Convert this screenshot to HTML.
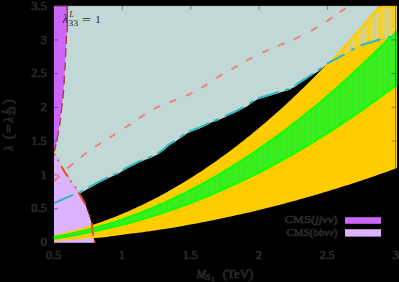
<!DOCTYPE html><html><head><meta charset="utf-8"><style>html,body{margin:0;padding:0;background:#000}svg{display:block}text{font-family:"Liberation Serif",serif}text.h{fill:#262626;stroke:#2c2c2c;stroke-width:0.7px;paint-order:stroke;stroke-linejoin:round}text.p{fill:#2c2c2c}</style></head><body>
<svg width="399" height="282" viewBox="0 0 399 282">
<rect width="399" height="282" fill="#000"/>
<defs>
<pattern id="hy" width="2.4" height="10" patternUnits="userSpaceOnUse"><rect width="2.4" height="10" fill="#ffcc00" fill-opacity="0.26"/><rect x="0.6" width="1.1" height="10" fill="#ffcc00" fill-opacity="0.95"/></pattern>
<pattern id="hg" width="2.4" height="10" patternUnits="userSpaceOnUse"><rect width="2.4" height="10" fill="#22f010" fill-opacity="0.7"/><rect x="0.6" width="1.1" height="10" fill="#22f010" fill-opacity="0.95"/></pattern>
<pattern id="gs" width="2.4" height="10" patternUnits="userSpaceOnUse"><rect x="0.2" width="1.0" height="10" fill="#b0ff30" fill-opacity="0.2"/></pattern>
<mask id="mout"><rect width="399" height="282" fill="#fff"/><path d="M53.80,5.80 L397.00,5.80 L397.00,34.00 L391.80,36.50 L370.00,43.00 L360.60,46.10 L352.80,49.90 L344.40,54.90 L326.90,64.10 L318.50,70.70 L312.50,74.50 L305.00,79.50 L298.75,83.30 L295.00,86.40 L288.75,89.60 L282.50,91.40 L276.25,93.30 L270.00,95.20 L263.75,97.10 L257.50,98.90 L251.25,102.70 L247.50,105.80 L241.25,108.90 L235.00,112.10 L228.75,114.90 L222.50,117.90 L217.50,120.10 L211.25,122.10 L206.25,124.90 L200.00,127.70 L193.75,130.20 L187.50,132.70 L181.25,137.10 L175.00,141.40 L168.75,145.10 L163.75,149.60 L157.50,154.20 L151.25,157.10 L145.00,159.60 L138.75,162.10 L132.50,165.20 L126.25,168.30 L120.00,172.20 L117.50,173.70 L108.75,177.50 L100.00,181.70 L87.50,188.70 L80.60,192.50 L78.50,192.50 L75.50,187.50 L71.00,181.50 L68.00,176.80 L65.00,172.50 L61.30,166.30 L58.30,160.30 L53.80,153.20 L53.80,153.20Z" fill="#000"/><path d="M53.80,153.20 L58.30,160.30 L61.30,166.30 L65.00,172.50 L68.00,176.80 L71.00,181.50 L75.50,187.50 L78.50,192.50 L82.00,198.50 L85.50,204.50 L87.50,210.60 L89.60,216.20 L91.60,222.90 L93.10,235.50 L94.80,242.60 L94.90,243.00 L53.80,243.00Z" fill="#000"/></mask>
<clipPath id="cin"><path d="M53.80,5.80 L397.00,5.80 L397.00,34.00 L391.80,36.50 L370.00,43.00 L360.60,46.10 L352.80,49.90 L344.40,54.90 L326.90,64.10 L318.50,70.70 L312.50,74.50 L305.00,79.50 L298.75,83.30 L295.00,86.40 L288.75,89.60 L282.50,91.40 L276.25,93.30 L270.00,95.20 L263.75,97.10 L257.50,98.90 L251.25,102.70 L247.50,105.80 L241.25,108.90 L235.00,112.10 L228.75,114.90 L222.50,117.90 L217.50,120.10 L211.25,122.10 L206.25,124.90 L200.00,127.70 L193.75,130.20 L187.50,132.70 L181.25,137.10 L175.00,141.40 L168.75,145.10 L163.75,149.60 L157.50,154.20 L151.25,157.10 L145.00,159.60 L138.75,162.10 L132.50,165.20 L126.25,168.30 L120.00,172.20 L117.50,173.70 L108.75,177.50 L100.00,181.70 L87.50,188.70 L80.60,192.50 L78.50,192.50 L75.50,187.50 L71.00,181.50 L68.00,176.80 L65.00,172.50 L61.30,166.30 L58.30,160.30 L53.80,153.20 L53.80,153.20Z"/></clipPath><clipPath id="cin2"><path d="M53.80,153.20 L58.30,160.30 L61.30,166.30 L65.00,172.50 L68.00,176.80 L71.00,181.50 L75.50,187.50 L78.50,192.50 L82.00,198.50 L85.50,204.50 L87.50,210.60 L89.60,216.20 L91.60,222.90 L93.10,235.50 L94.80,242.60 L94.90,243.00 L53.80,243.00Z"/></clipPath>
<pattern id="hy2" width="2.4" height="10" patternUnits="userSpaceOnUse"><rect width="2.4" height="10" fill="#ffcc00" fill-opacity="0.82"/><rect x="0.6" width="1.2" height="10" fill="#ffcc00" fill-opacity="1"/></pattern>
<pattern id="hg2" width="2.4" height="10" patternUnits="userSpaceOnUse"><rect width="2.4" height="10" fill="#22f010" fill-opacity="0.85"/><rect x="0.6" width="1.2" height="10" fill="#22f010" fill-opacity="1"/></pattern>
<clipPath id="cgreen"><path d="M54.00,236.59 L57.00,236.06 L60.00,235.51 L63.00,234.93 L66.00,234.33 L69.00,233.72 L72.00,233.07 L75.00,232.41 L78.00,231.72 L81.00,231.01 L84.00,230.28 L87.00,229.53 L90.00,228.75 L93.00,227.95 L96.00,227.12 L99.00,226.28 L102.00,225.41 L105.00,224.52 L108.00,223.61 L111.00,222.67 L114.00,221.71 L117.00,220.73 L120.00,219.73 L123.00,218.70 L126.00,217.65 L129.00,216.58 L132.00,215.49 L135.00,214.37 L138.00,213.23 L141.00,212.07 L144.00,210.88 L147.00,209.68 L150.00,208.45 L153.00,207.19 L156.00,205.92 L159.00,204.62 L162.00,203.30 L165.00,201.96 L168.00,200.59 L171.00,199.20 L174.00,197.79 L177.00,196.36 L180.00,194.90 L183.00,193.42 L186.00,191.92 L189.00,190.40 L192.00,188.85 L195.00,187.28 L198.00,185.69 L201.00,184.07 L204.00,182.44 L207.00,180.78 L210.00,179.09 L213.00,177.39 L216.00,175.66 L219.00,173.91 L222.00,172.14 L225.00,170.34 L228.00,168.52 L231.00,166.68 L234.00,164.82 L237.00,162.93 L240.00,161.03 L243.00,159.09 L246.00,157.14 L249.00,155.16 L252.00,153.16 L255.00,151.14 L258.00,149.10 L261.00,147.03 L264.00,144.94 L267.00,142.83 L270.00,140.69 L273.00,138.54 L276.00,136.36 L279.00,134.15 L282.00,131.93 L285.00,129.68 L288.00,127.41 L291.00,125.11 L294.00,122.80 L297.00,120.46 L300.00,118.10 L303.00,115.72 L306.00,113.31 L309.00,110.88 L312.00,108.43 L315.00,105.95 L318.00,103.46 L321.00,100.94 L324.00,98.39 L327.00,95.83 L330.00,93.24 L333.00,90.63 L336.00,88.00 L339.00,85.34 L342.00,82.67 L345.00,79.97 L348.00,77.24 L351.00,74.50 L354.00,71.73 L357.00,68.94 L360.00,66.12 L363.00,63.29 L366.00,60.43 L369.00,57.55 L372.00,54.64 L375.00,51.71 L378.00,48.77 L381.00,45.79 L384.00,42.80 L387.00,39.78 L390.00,36.74 L393.00,33.68 L396.00,30.59 L397.00,29.56 L397.00,84.92 L396.00,85.69 L393.00,87.97 L390.00,90.24 L387.00,92.49 L384.00,94.72 L381.00,96.94 L378.00,99.14 L375.00,101.32 L372.00,103.48 L369.00,105.63 L366.00,107.77 L363.00,109.88 L360.00,111.98 L357.00,114.06 L354.00,116.13 L351.00,118.18 L348.00,120.21 L345.00,122.22 L342.00,124.22 L339.00,126.20 L336.00,128.17 L333.00,130.12 L330.00,132.05 L327.00,133.96 L324.00,135.86 L321.00,137.74 L318.00,139.61 L315.00,141.46 L312.00,143.29 L309.00,145.10 L306.00,146.90 L303.00,148.68 L300.00,150.44 L297.00,152.19 L294.00,153.92 L291.00,155.63 L288.00,157.33 L285.00,159.01 L282.00,160.68 L279.00,162.32 L276.00,163.95 L273.00,165.57 L270.00,167.16 L267.00,168.74 L264.00,170.31 L261.00,171.85 L258.00,173.38 L255.00,174.90 L252.00,176.39 L249.00,177.87 L246.00,179.33 L243.00,180.78 L240.00,182.21 L237.00,183.62 L234.00,185.02 L231.00,186.40 L228.00,187.76 L225.00,189.10 L222.00,190.43 L219.00,191.74 L216.00,193.04 L213.00,194.32 L210.00,195.58 L207.00,196.83 L204.00,198.05 L201.00,199.26 L198.00,200.46 L195.00,201.64 L192.00,202.80 L189.00,203.94 L186.00,205.07 L183.00,206.18 L180.00,207.28 L177.00,208.35 L174.00,209.42 L171.00,210.46 L168.00,211.49 L165.00,212.50 L162.00,213.49 L159.00,214.47 L156.00,215.43 L153.00,216.37 L150.00,217.30 L147.00,218.21 L144.00,219.10 L141.00,219.98 L138.00,220.84 L135.00,221.68 L132.00,222.51 L129.00,223.32 L126.00,224.11 L123.00,224.89 L120.00,225.65 L117.00,226.39 L114.00,227.12 L111.00,227.83 L108.00,228.55 L105.00,229.27 L102.00,229.97 L99.00,230.65 L96.00,231.32 L93.00,231.97 L90.00,232.61 L87.00,233.23 L84.00,233.83 L81.00,234.41 L78.00,234.98 L75.00,235.53 L72.00,236.07 L69.00,236.59 L66.00,237.09 L63.00,237.57 L60.00,238.04 L57.00,238.49 L54.00,238.92Z"/></clipPath>
<clipPath id="cplot"><rect x="53.80" y="5.80" width="343.20" height="237.20"/></clipPath>
</defs>
<g clip-path="url(#cplot)">
<path d="M53.80,5.80 L397.00,5.80 L397.00,34.00 L391.80,36.50 L370.00,43.00 L360.60,46.10 L352.80,49.90 L344.40,54.90 L326.90,64.10 L318.50,70.70 L312.50,74.50 L305.00,79.50 L298.75,83.30 L295.00,86.40 L288.75,89.60 L282.50,91.40 L276.25,93.30 L270.00,95.20 L263.75,97.10 L257.50,98.90 L251.25,102.70 L247.50,105.80 L241.25,108.90 L235.00,112.10 L228.75,114.90 L222.50,117.90 L217.50,120.10 L211.25,122.10 L206.25,124.90 L200.00,127.70 L193.75,130.20 L187.50,132.70 L181.25,137.10 L175.00,141.40 L168.75,145.10 L163.75,149.60 L157.50,154.20 L151.25,157.10 L145.00,159.60 L138.75,162.10 L132.50,165.20 L126.25,168.30 L120.00,172.20 L117.50,173.70 L108.75,177.50 L100.00,181.70 L87.50,188.70 L80.60,192.50 L78.50,192.50 L75.50,187.50 L71.00,181.50 L68.00,176.80 L65.00,172.50 L61.30,166.30 L58.30,160.30 L53.80,153.20 L53.80,153.20Z" fill="#c1d8d6" stroke="#c1d8d6" stroke-width="0.8"/>
<path d="M53.80,5.80 L67.30,5.80 L67.25,30.00 L66.50,35.00 L65.30,62.00 L63.50,92.00 L60.00,122.50 L57.00,140.00 L54.00,152.50 L53.80,152.50Z" fill="#cc66ff"/>
<path d="M53.80,153.20 L58.30,160.30 L61.30,166.30 L65.00,172.50 L68.00,176.80 L71.00,181.50 L75.50,187.50 L78.50,192.50 L82.00,198.50 L85.50,204.50 L87.50,210.60 L89.60,216.20 L91.60,222.90 L93.10,235.50 L94.80,242.60 L94.90,243.00 L53.80,243.00Z" fill="#ddb3ff"/>
<g mask="url(#mout)"><path d="M54.00,235.30 L57.00,234.66 L60.00,233.99 L63.00,233.29 L66.00,232.56 L69.00,231.81 L72.00,231.03 L75.00,230.22 L78.00,229.38 L81.00,228.52 L84.00,227.63 L87.00,226.71 L90.00,225.76 L93.00,224.79 L96.00,223.79 L99.00,222.76 L102.00,221.70 L105.00,220.62 L108.00,219.51 L111.00,218.37 L114.00,217.20 L117.00,216.01 L120.00,214.78 L123.00,213.53 L126.00,212.26 L129.00,210.95 L132.00,209.62 L135.00,208.26 L138.00,206.87 L141.00,205.46 L144.00,204.02 L147.00,202.55 L150.00,201.05 L153.00,199.53 L156.00,197.97 L159.00,196.40 L162.00,194.79 L165.00,193.15 L168.00,191.49 L171.00,189.80 L174.00,188.08 L177.00,186.34 L180.00,184.57 L183.00,182.77 L186.00,180.94 L189.00,179.08 L192.00,177.20 L195.00,175.29 L198.00,173.35 L201.00,171.39 L204.00,169.39 L207.00,167.37 L210.00,165.33 L213.00,163.25 L216.00,161.15 L219.00,159.02 L222.00,156.86 L225.00,154.67 L228.00,152.46 L231.00,150.22 L234.00,147.95 L237.00,145.66 L240.00,143.33 L243.00,140.98 L246.00,138.60 L249.00,136.20 L252.00,133.77 L255.00,131.30 L258.00,128.82 L261.00,126.30 L264.00,123.76 L267.00,121.19 L270.00,118.59 L273.00,115.96 L276.00,113.31 L279.00,110.63 L282.00,107.92 L285.00,105.18 L288.00,102.42 L291.00,99.63 L294.00,96.81 L297.00,93.96 L300.00,91.09 L303.00,88.18 L306.00,85.26 L309.00,82.30 L312.00,79.31 L315.00,76.30 L318.00,73.26 L321.00,70.20 L324.00,67.10 L327.00,63.98 L330.00,60.83 L333.00,57.66 L336.00,54.45 L339.00,51.22 L342.00,47.96 L345.00,44.67 L348.00,41.36 L351.00,38.02 L354.00,34.65 L357.00,31.25 L360.00,27.82 L363.00,24.37 L366.00,20.89 L369.00,17.38 L372.00,13.85 L375.00,10.29 L378.00,6.70 L381.00,5.80 L384.00,5.80 L387.00,5.80 L390.00,5.80 L393.00,5.80 L396.00,5.80 L397.00,5.80 L397.00,168.06 L396.00,168.43 L393.00,169.52 L390.00,170.60 L387.00,171.67 L384.00,172.73 L381.00,173.79 L378.00,174.84 L375.00,175.88 L372.00,176.91 L369.00,177.94 L366.00,178.95 L363.00,179.96 L360.00,180.96 L357.00,181.96 L354.00,182.94 L351.00,183.92 L348.00,184.89 L345.00,185.85 L342.00,186.80 L339.00,187.75 L336.00,188.68 L333.00,189.61 L330.00,190.53 L327.00,191.45 L324.00,192.35 L321.00,193.25 L318.00,194.14 L315.00,195.02 L312.00,195.89 L309.00,196.76 L306.00,197.61 L303.00,198.46 L300.00,199.30 L297.00,200.14 L294.00,200.96 L291.00,201.78 L288.00,202.59 L285.00,203.39 L282.00,204.18 L279.00,204.97 L276.00,205.75 L273.00,206.52 L270.00,207.28 L267.00,208.03 L264.00,208.78 L261.00,209.51 L258.00,210.24 L255.00,210.96 L252.00,211.68 L249.00,212.38 L246.00,213.08 L243.00,213.77 L240.00,214.45 L237.00,215.12 L234.00,215.79 L231.00,216.45 L228.00,217.10 L225.00,217.74 L222.00,218.37 L219.00,219.00 L216.00,219.62 L213.00,220.23 L210.00,220.83 L207.00,221.42 L204.00,222.01 L201.00,222.58 L198.00,223.15 L195.00,223.72 L192.00,224.27 L189.00,224.82 L186.00,225.35 L183.00,225.88 L180.00,226.40 L177.00,226.92 L174.00,227.42 L171.00,227.92 L168.00,228.41 L165.00,228.89 L162.00,229.37 L159.00,229.83 L156.00,230.29 L153.00,230.74 L150.00,231.18 L147.00,231.62 L144.00,232.04 L141.00,232.46 L138.00,232.82 L135.00,233.16 L132.00,233.50 L129.00,233.83 L126.00,234.21 L123.00,234.63 L120.00,235.05 L117.00,235.47 L114.00,235.89 L111.00,236.31 L108.00,236.73 L105.00,237.15 L102.00,237.54 L99.00,237.80 L96.00,238.06 L93.00,238.31 L90.00,238.53 L87.00,238.71 L84.00,238.90 L81.00,239.20 L78.00,239.50 L75.00,239.80 L72.00,240.01 L69.00,240.23 L66.00,240.44 L63.00,240.66 L60.00,240.87 L57.00,241.09 L54.00,241.30Z" fill="#ffcc00"/><path d="M54.00,236.59 L57.00,236.06 L60.00,235.51 L63.00,234.93 L66.00,234.33 L69.00,233.72 L72.00,233.07 L75.00,232.41 L78.00,231.72 L81.00,231.01 L84.00,230.28 L87.00,229.53 L90.00,228.75 L93.00,227.95 L96.00,227.12 L99.00,226.28 L102.00,225.41 L105.00,224.52 L108.00,223.61 L111.00,222.67 L114.00,221.71 L117.00,220.73 L120.00,219.73 L123.00,218.70 L126.00,217.65 L129.00,216.58 L132.00,215.49 L135.00,214.37 L138.00,213.23 L141.00,212.07 L144.00,210.88 L147.00,209.68 L150.00,208.45 L153.00,207.19 L156.00,205.92 L159.00,204.62 L162.00,203.30 L165.00,201.96 L168.00,200.59 L171.00,199.20 L174.00,197.79 L177.00,196.36 L180.00,194.90 L183.00,193.42 L186.00,191.92 L189.00,190.40 L192.00,188.85 L195.00,187.28 L198.00,185.69 L201.00,184.07 L204.00,182.44 L207.00,180.78 L210.00,179.09 L213.00,177.39 L216.00,175.66 L219.00,173.91 L222.00,172.14 L225.00,170.34 L228.00,168.52 L231.00,166.68 L234.00,164.82 L237.00,162.93 L240.00,161.03 L243.00,159.09 L246.00,157.14 L249.00,155.16 L252.00,153.16 L255.00,151.14 L258.00,149.10 L261.00,147.03 L264.00,144.94 L267.00,142.83 L270.00,140.69 L273.00,138.54 L276.00,136.36 L279.00,134.15 L282.00,131.93 L285.00,129.68 L288.00,127.41 L291.00,125.11 L294.00,122.80 L297.00,120.46 L300.00,118.10 L303.00,115.72 L306.00,113.31 L309.00,110.88 L312.00,108.43 L315.00,105.95 L318.00,103.46 L321.00,100.94 L324.00,98.39 L327.00,95.83 L330.00,93.24 L333.00,90.63 L336.00,88.00 L339.00,85.34 L342.00,82.67 L345.00,79.97 L348.00,77.24 L351.00,74.50 L354.00,71.73 L357.00,68.94 L360.00,66.12 L363.00,63.29 L366.00,60.43 L369.00,57.55 L372.00,54.64 L375.00,51.71 L378.00,48.77 L381.00,45.79 L384.00,42.80 L387.00,39.78 L390.00,36.74 L393.00,33.68 L396.00,30.59 L397.00,29.56 L397.00,84.92 L396.00,85.69 L393.00,87.97 L390.00,90.24 L387.00,92.49 L384.00,94.72 L381.00,96.94 L378.00,99.14 L375.00,101.32 L372.00,103.48 L369.00,105.63 L366.00,107.77 L363.00,109.88 L360.00,111.98 L357.00,114.06 L354.00,116.13 L351.00,118.18 L348.00,120.21 L345.00,122.22 L342.00,124.22 L339.00,126.20 L336.00,128.17 L333.00,130.12 L330.00,132.05 L327.00,133.96 L324.00,135.86 L321.00,137.74 L318.00,139.61 L315.00,141.46 L312.00,143.29 L309.00,145.10 L306.00,146.90 L303.00,148.68 L300.00,150.44 L297.00,152.19 L294.00,153.92 L291.00,155.63 L288.00,157.33 L285.00,159.01 L282.00,160.68 L279.00,162.32 L276.00,163.95 L273.00,165.57 L270.00,167.16 L267.00,168.74 L264.00,170.31 L261.00,171.85 L258.00,173.38 L255.00,174.90 L252.00,176.39 L249.00,177.87 L246.00,179.33 L243.00,180.78 L240.00,182.21 L237.00,183.62 L234.00,185.02 L231.00,186.40 L228.00,187.76 L225.00,189.10 L222.00,190.43 L219.00,191.74 L216.00,193.04 L213.00,194.32 L210.00,195.58 L207.00,196.83 L204.00,198.05 L201.00,199.26 L198.00,200.46 L195.00,201.64 L192.00,202.80 L189.00,203.94 L186.00,205.07 L183.00,206.18 L180.00,207.28 L177.00,208.35 L174.00,209.42 L171.00,210.46 L168.00,211.49 L165.00,212.50 L162.00,213.49 L159.00,214.47 L156.00,215.43 L153.00,216.37 L150.00,217.30 L147.00,218.21 L144.00,219.10 L141.00,219.98 L138.00,220.84 L135.00,221.68 L132.00,222.51 L129.00,223.32 L126.00,224.11 L123.00,224.89 L120.00,225.65 L117.00,226.39 L114.00,227.12 L111.00,227.83 L108.00,228.55 L105.00,229.27 L102.00,229.97 L99.00,230.65 L96.00,231.32 L93.00,231.97 L90.00,232.61 L87.00,233.23 L84.00,233.83 L81.00,234.41 L78.00,234.98 L75.00,235.53 L72.00,236.07 L69.00,236.59 L66.00,237.09 L63.00,237.57 L60.00,238.04 L57.00,238.49 L54.00,238.92Z" fill="#2eec1c" stroke="#06fd06" stroke-width="1.2"/><path d="M54.00,236.59 L57.00,236.06 L60.00,235.51 L63.00,234.93 L66.00,234.33 L69.00,233.72 L72.00,233.07 L75.00,232.41 L78.00,231.72 L81.00,231.01 L84.00,230.28 L87.00,229.53 L90.00,228.75 L93.00,227.95 L96.00,227.12 L99.00,226.28 L102.00,225.41 L105.00,224.52 L108.00,223.61 L111.00,222.67 L114.00,221.71 L117.00,220.73 L120.00,219.73 L123.00,218.70 L126.00,217.65 L129.00,216.58 L132.00,215.49 L135.00,214.37 L138.00,213.23 L141.00,212.07 L144.00,210.88 L147.00,209.68 L150.00,208.45 L153.00,207.19 L156.00,205.92 L159.00,204.62 L162.00,203.30 L165.00,201.96 L168.00,200.59 L171.00,199.20 L174.00,197.79 L177.00,196.36 L180.00,194.90 L183.00,193.42 L186.00,191.92 L189.00,190.40 L192.00,188.85 L195.00,187.28 L198.00,185.69 L201.00,184.07 L204.00,182.44 L207.00,180.78 L210.00,179.09 L213.00,177.39 L216.00,175.66 L219.00,173.91 L222.00,172.14 L225.00,170.34 L228.00,168.52 L231.00,166.68 L234.00,164.82 L237.00,162.93 L240.00,161.03 L243.00,159.09 L246.00,157.14 L249.00,155.16 L252.00,153.16 L255.00,151.14 L258.00,149.10 L261.00,147.03 L264.00,144.94 L267.00,142.83 L270.00,140.69 L273.00,138.54 L276.00,136.36 L279.00,134.15 L282.00,131.93 L285.00,129.68 L288.00,127.41 L291.00,125.11 L294.00,122.80 L297.00,120.46 L300.00,118.10 L303.00,115.72 L306.00,113.31 L309.00,110.88 L312.00,108.43 L315.00,105.95 L318.00,103.46 L321.00,100.94 L324.00,98.39 L327.00,95.83 L330.00,93.24 L333.00,90.63 L336.00,88.00 L339.00,85.34 L342.00,82.67 L345.00,79.97 L348.00,77.24 L351.00,74.50 L354.00,71.73 L357.00,68.94 L360.00,66.12 L363.00,63.29 L366.00,60.43 L369.00,57.55 L372.00,54.64 L375.00,51.71 L378.00,48.77 L381.00,45.79 L384.00,42.80 L387.00,39.78 L390.00,36.74 L393.00,33.68 L396.00,30.59 L397.00,29.56 L397.00,84.92 L396.00,85.69 L393.00,87.97 L390.00,90.24 L387.00,92.49 L384.00,94.72 L381.00,96.94 L378.00,99.14 L375.00,101.32 L372.00,103.48 L369.00,105.63 L366.00,107.77 L363.00,109.88 L360.00,111.98 L357.00,114.06 L354.00,116.13 L351.00,118.18 L348.00,120.21 L345.00,122.22 L342.00,124.22 L339.00,126.20 L336.00,128.17 L333.00,130.12 L330.00,132.05 L327.00,133.96 L324.00,135.86 L321.00,137.74 L318.00,139.61 L315.00,141.46 L312.00,143.29 L309.00,145.10 L306.00,146.90 L303.00,148.68 L300.00,150.44 L297.00,152.19 L294.00,153.92 L291.00,155.63 L288.00,157.33 L285.00,159.01 L282.00,160.68 L279.00,162.32 L276.00,163.95 L273.00,165.57 L270.00,167.16 L267.00,168.74 L264.00,170.31 L261.00,171.85 L258.00,173.38 L255.00,174.90 L252.00,176.39 L249.00,177.87 L246.00,179.33 L243.00,180.78 L240.00,182.21 L237.00,183.62 L234.00,185.02 L231.00,186.40 L228.00,187.76 L225.00,189.10 L222.00,190.43 L219.00,191.74 L216.00,193.04 L213.00,194.32 L210.00,195.58 L207.00,196.83 L204.00,198.05 L201.00,199.26 L198.00,200.46 L195.00,201.64 L192.00,202.80 L189.00,203.94 L186.00,205.07 L183.00,206.18 L180.00,207.28 L177.00,208.35 L174.00,209.42 L171.00,210.46 L168.00,211.49 L165.00,212.50 L162.00,213.49 L159.00,214.47 L156.00,215.43 L153.00,216.37 L150.00,217.30 L147.00,218.21 L144.00,219.10 L141.00,219.98 L138.00,220.84 L135.00,221.68 L132.00,222.51 L129.00,223.32 L126.00,224.11 L123.00,224.89 L120.00,225.65 L117.00,226.39 L114.00,227.12 L111.00,227.83 L108.00,228.55 L105.00,229.27 L102.00,229.97 L99.00,230.65 L96.00,231.32 L93.00,231.97 L90.00,232.61 L87.00,233.23 L84.00,233.83 L81.00,234.41 L78.00,234.98 L75.00,235.53 L72.00,236.07 L69.00,236.59 L66.00,237.09 L63.00,237.57 L60.00,238.04 L57.00,238.49 L54.00,238.92Z" fill="none" stroke="#06fd06" stroke-width="3.2" clip-path="url(#cgreen)"/><path d="M54.00,236.59 L57.00,236.06 L60.00,235.51 L63.00,234.93 L66.00,234.33 L69.00,233.72 L72.00,233.07 L75.00,232.41 L78.00,231.72 L81.00,231.01 L84.00,230.28 L87.00,229.53 L90.00,228.75 L93.00,227.95 L96.00,227.12 L99.00,226.28 L102.00,225.41 L105.00,224.52 L108.00,223.61 L111.00,222.67 L114.00,221.71 L117.00,220.73 L120.00,219.73 L123.00,218.70 L126.00,217.65 L129.00,216.58 L132.00,215.49 L135.00,214.37 L138.00,213.23 L141.00,212.07 L144.00,210.88 L147.00,209.68 L150.00,208.45 L153.00,207.19 L156.00,205.92 L159.00,204.62 L162.00,203.30 L165.00,201.96 L168.00,200.59 L171.00,199.20 L174.00,197.79 L177.00,196.36 L180.00,194.90 L183.00,193.42 L186.00,191.92 L189.00,190.40 L192.00,188.85 L195.00,187.28 L198.00,185.69 L201.00,184.07 L204.00,182.44 L207.00,180.78 L210.00,179.09 L213.00,177.39 L216.00,175.66 L219.00,173.91 L222.00,172.14 L225.00,170.34 L228.00,168.52 L231.00,166.68 L234.00,164.82 L237.00,162.93 L240.00,161.03 L243.00,159.09 L246.00,157.14 L249.00,155.16 L252.00,153.16 L255.00,151.14 L258.00,149.10 L261.00,147.03 L264.00,144.94 L267.00,142.83 L270.00,140.69 L273.00,138.54 L276.00,136.36 L279.00,134.15 L282.00,131.93 L285.00,129.68 L288.00,127.41 L291.00,125.11 L294.00,122.80 L297.00,120.46 L300.00,118.10 L303.00,115.72 L306.00,113.31 L309.00,110.88 L312.00,108.43 L315.00,105.95 L318.00,103.46 L321.00,100.94 L324.00,98.39 L327.00,95.83 L330.00,93.24 L333.00,90.63 L336.00,88.00 L339.00,85.34 L342.00,82.67 L345.00,79.97 L348.00,77.24 L351.00,74.50 L354.00,71.73 L357.00,68.94 L360.00,66.12 L363.00,63.29 L366.00,60.43 L369.00,57.55 L372.00,54.64 L375.00,51.71 L378.00,48.77 L381.00,45.79 L384.00,42.80 L387.00,39.78 L390.00,36.74 L393.00,33.68 L396.00,30.59 L397.00,29.56 L397.00,84.92 L396.00,85.69 L393.00,87.97 L390.00,90.24 L387.00,92.49 L384.00,94.72 L381.00,96.94 L378.00,99.14 L375.00,101.32 L372.00,103.48 L369.00,105.63 L366.00,107.77 L363.00,109.88 L360.00,111.98 L357.00,114.06 L354.00,116.13 L351.00,118.18 L348.00,120.21 L345.00,122.22 L342.00,124.22 L339.00,126.20 L336.00,128.17 L333.00,130.12 L330.00,132.05 L327.00,133.96 L324.00,135.86 L321.00,137.74 L318.00,139.61 L315.00,141.46 L312.00,143.29 L309.00,145.10 L306.00,146.90 L303.00,148.68 L300.00,150.44 L297.00,152.19 L294.00,153.92 L291.00,155.63 L288.00,157.33 L285.00,159.01 L282.00,160.68 L279.00,162.32 L276.00,163.95 L273.00,165.57 L270.00,167.16 L267.00,168.74 L264.00,170.31 L261.00,171.85 L258.00,173.38 L255.00,174.90 L252.00,176.39 L249.00,177.87 L246.00,179.33 L243.00,180.78 L240.00,182.21 L237.00,183.62 L234.00,185.02 L231.00,186.40 L228.00,187.76 L225.00,189.10 L222.00,190.43 L219.00,191.74 L216.00,193.04 L213.00,194.32 L210.00,195.58 L207.00,196.83 L204.00,198.05 L201.00,199.26 L198.00,200.46 L195.00,201.64 L192.00,202.80 L189.00,203.94 L186.00,205.07 L183.00,206.18 L180.00,207.28 L177.00,208.35 L174.00,209.42 L171.00,210.46 L168.00,211.49 L165.00,212.50 L162.00,213.49 L159.00,214.47 L156.00,215.43 L153.00,216.37 L150.00,217.30 L147.00,218.21 L144.00,219.10 L141.00,219.98 L138.00,220.84 L135.00,221.68 L132.00,222.51 L129.00,223.32 L126.00,224.11 L123.00,224.89 L120.00,225.65 L117.00,226.39 L114.00,227.12 L111.00,227.83 L108.00,228.55 L105.00,229.27 L102.00,229.97 L99.00,230.65 L96.00,231.32 L93.00,231.97 L90.00,232.61 L87.00,233.23 L84.00,233.83 L81.00,234.41 L78.00,234.98 L75.00,235.53 L72.00,236.07 L69.00,236.59 L66.00,237.09 L63.00,237.57 L60.00,238.04 L57.00,238.49 L54.00,238.92Z" fill="url(#gs)"/></g>
<g clip-path="url(#cin)"><path d="M54.00,235.30 L57.00,234.66 L60.00,233.99 L63.00,233.29 L66.00,232.56 L69.00,231.81 L72.00,231.03 L75.00,230.22 L78.00,229.38 L81.00,228.52 L84.00,227.63 L87.00,226.71 L90.00,225.76 L93.00,224.79 L96.00,223.79 L99.00,222.76 L102.00,221.70 L105.00,220.62 L108.00,219.51 L111.00,218.37 L114.00,217.20 L117.00,216.01 L120.00,214.78 L123.00,213.53 L126.00,212.26 L129.00,210.95 L132.00,209.62 L135.00,208.26 L138.00,206.87 L141.00,205.46 L144.00,204.02 L147.00,202.55 L150.00,201.05 L153.00,199.53 L156.00,197.97 L159.00,196.40 L162.00,194.79 L165.00,193.15 L168.00,191.49 L171.00,189.80 L174.00,188.08 L177.00,186.34 L180.00,184.57 L183.00,182.77 L186.00,180.94 L189.00,179.08 L192.00,177.20 L195.00,175.29 L198.00,173.35 L201.00,171.39 L204.00,169.39 L207.00,167.37 L210.00,165.33 L213.00,163.25 L216.00,161.15 L219.00,159.02 L222.00,156.86 L225.00,154.67 L228.00,152.46 L231.00,150.22 L234.00,147.95 L237.00,145.66 L240.00,143.33 L243.00,140.98 L246.00,138.60 L249.00,136.20 L252.00,133.77 L255.00,131.30 L258.00,128.82 L261.00,126.30 L264.00,123.76 L267.00,121.19 L270.00,118.59 L273.00,115.96 L276.00,113.31 L279.00,110.63 L282.00,107.92 L285.00,105.18 L288.00,102.42 L291.00,99.63 L294.00,96.81 L297.00,93.96 L300.00,91.09 L303.00,88.18 L306.00,85.26 L309.00,82.30 L312.00,79.31 L315.00,76.30 L318.00,73.26 L321.00,70.20 L324.00,67.10 L327.00,63.98 L330.00,60.83 L333.00,57.66 L336.00,54.45 L339.00,51.22 L342.00,47.96 L345.00,44.67 L348.00,41.36 L351.00,38.02 L354.00,34.65 L357.00,31.25 L360.00,27.82 L363.00,24.37 L366.00,20.89 L369.00,17.38 L372.00,13.85 L375.00,10.29 L378.00,6.70 L381.00,5.80 L384.00,5.80 L387.00,5.80 L390.00,5.80 L393.00,5.80 L396.00,5.80 L397.00,5.80 L397.00,168.06 L396.00,168.43 L393.00,169.52 L390.00,170.60 L387.00,171.67 L384.00,172.73 L381.00,173.79 L378.00,174.84 L375.00,175.88 L372.00,176.91 L369.00,177.94 L366.00,178.95 L363.00,179.96 L360.00,180.96 L357.00,181.96 L354.00,182.94 L351.00,183.92 L348.00,184.89 L345.00,185.85 L342.00,186.80 L339.00,187.75 L336.00,188.68 L333.00,189.61 L330.00,190.53 L327.00,191.45 L324.00,192.35 L321.00,193.25 L318.00,194.14 L315.00,195.02 L312.00,195.89 L309.00,196.76 L306.00,197.61 L303.00,198.46 L300.00,199.30 L297.00,200.14 L294.00,200.96 L291.00,201.78 L288.00,202.59 L285.00,203.39 L282.00,204.18 L279.00,204.97 L276.00,205.75 L273.00,206.52 L270.00,207.28 L267.00,208.03 L264.00,208.78 L261.00,209.51 L258.00,210.24 L255.00,210.96 L252.00,211.68 L249.00,212.38 L246.00,213.08 L243.00,213.77 L240.00,214.45 L237.00,215.12 L234.00,215.79 L231.00,216.45 L228.00,217.10 L225.00,217.74 L222.00,218.37 L219.00,219.00 L216.00,219.62 L213.00,220.23 L210.00,220.83 L207.00,221.42 L204.00,222.01 L201.00,222.58 L198.00,223.15 L195.00,223.72 L192.00,224.27 L189.00,224.82 L186.00,225.35 L183.00,225.88 L180.00,226.40 L177.00,226.92 L174.00,227.42 L171.00,227.92 L168.00,228.41 L165.00,228.89 L162.00,229.37 L159.00,229.83 L156.00,230.29 L153.00,230.74 L150.00,231.18 L147.00,231.62 L144.00,232.04 L141.00,232.46 L138.00,232.82 L135.00,233.16 L132.00,233.50 L129.00,233.83 L126.00,234.21 L123.00,234.63 L120.00,235.05 L117.00,235.47 L114.00,235.89 L111.00,236.31 L108.00,236.73 L105.00,237.15 L102.00,237.54 L99.00,237.80 L96.00,238.06 L93.00,238.31 L90.00,238.53 L87.00,238.71 L84.00,238.90 L81.00,239.20 L78.00,239.50 L75.00,239.80 L72.00,240.01 L69.00,240.23 L66.00,240.44 L63.00,240.66 L60.00,240.87 L57.00,241.09 L54.00,241.30Z" fill="url(#hy)"/><path d="M54.00,235.30 L57.00,234.66 L60.00,233.99 L63.00,233.29 L66.00,232.56 L69.00,231.81 L72.00,231.03 L75.00,230.22 L78.00,229.38 L81.00,228.52 L84.00,227.63 L87.00,226.71 L90.00,225.76 L93.00,224.79 L96.00,223.79 L99.00,222.76 L102.00,221.70 L105.00,220.62 L108.00,219.51 L111.00,218.37 L114.00,217.20 L117.00,216.01 L120.00,214.78 L123.00,213.53 L126.00,212.26 L129.00,210.95 L132.00,209.62 L135.00,208.26 L138.00,206.87 L141.00,205.46 L144.00,204.02 L147.00,202.55 L150.00,201.05 L153.00,199.53 L156.00,197.97 L159.00,196.40 L162.00,194.79 L165.00,193.15 L168.00,191.49 L171.00,189.80 L174.00,188.08 L177.00,186.34 L180.00,184.57 L183.00,182.77 L186.00,180.94 L189.00,179.08 L192.00,177.20 L195.00,175.29 L198.00,173.35 L201.00,171.39 L204.00,169.39 L207.00,167.37 L210.00,165.33 L213.00,163.25 L216.00,161.15 L219.00,159.02 L222.00,156.86 L225.00,154.67 L228.00,152.46 L231.00,150.22 L234.00,147.95 L237.00,145.66 L240.00,143.33 L243.00,140.98 L246.00,138.60 L249.00,136.20 L252.00,133.77 L255.00,131.30 L258.00,128.82 L261.00,126.30 L264.00,123.76 L267.00,121.19 L270.00,118.59 L273.00,115.96 L276.00,113.31 L279.00,110.63 L282.00,107.92 L285.00,105.18 L288.00,102.42 L291.00,99.63 L294.00,96.81 L297.00,93.96 L300.00,91.09 L303.00,88.18 L306.00,85.26 L309.00,82.30 L312.00,79.31 L315.00,76.30 L318.00,73.26 L321.00,70.20 L324.00,67.10 L327.00,63.98 L330.00,60.83 L333.00,57.66 L336.00,54.45 L339.00,51.22 L342.00,47.96 L345.00,44.67 L348.00,41.36 L351.00,38.02 L354.00,34.65 L357.00,31.25 L360.00,27.82 L363.00,24.37 L366.00,20.89 L369.00,17.38 L372.00,13.85 L375.00,10.29 L378.00,6.70 L381.00,5.80 L384.00,5.80 L387.00,5.80 L390.00,5.80 L393.00,5.80 L396.00,5.80 L397.00,5.80" fill="none" stroke="#ffcc00" stroke-width="2.4" transform="translate(0.8,0.8)"/><path d="M54.00,236.59 L57.00,236.06 L60.00,235.51 L63.00,234.93 L66.00,234.33 L69.00,233.72 L72.00,233.07 L75.00,232.41 L78.00,231.72 L81.00,231.01 L84.00,230.28 L87.00,229.53 L90.00,228.75 L93.00,227.95 L96.00,227.12 L99.00,226.28 L102.00,225.41 L105.00,224.52 L108.00,223.61 L111.00,222.67 L114.00,221.71 L117.00,220.73 L120.00,219.73 L123.00,218.70 L126.00,217.65 L129.00,216.58 L132.00,215.49 L135.00,214.37 L138.00,213.23 L141.00,212.07 L144.00,210.88 L147.00,209.68 L150.00,208.45 L153.00,207.19 L156.00,205.92 L159.00,204.62 L162.00,203.30 L165.00,201.96 L168.00,200.59 L171.00,199.20 L174.00,197.79 L177.00,196.36 L180.00,194.90 L183.00,193.42 L186.00,191.92 L189.00,190.40 L192.00,188.85 L195.00,187.28 L198.00,185.69 L201.00,184.07 L204.00,182.44 L207.00,180.78 L210.00,179.09 L213.00,177.39 L216.00,175.66 L219.00,173.91 L222.00,172.14 L225.00,170.34 L228.00,168.52 L231.00,166.68 L234.00,164.82 L237.00,162.93 L240.00,161.03 L243.00,159.09 L246.00,157.14 L249.00,155.16 L252.00,153.16 L255.00,151.14 L258.00,149.10 L261.00,147.03 L264.00,144.94 L267.00,142.83 L270.00,140.69 L273.00,138.54 L276.00,136.36 L279.00,134.15 L282.00,131.93 L285.00,129.68 L288.00,127.41 L291.00,125.11 L294.00,122.80 L297.00,120.46 L300.00,118.10 L303.00,115.72 L306.00,113.31 L309.00,110.88 L312.00,108.43 L315.00,105.95 L318.00,103.46 L321.00,100.94 L324.00,98.39 L327.00,95.83 L330.00,93.24 L333.00,90.63 L336.00,88.00 L339.00,85.34 L342.00,82.67 L345.00,79.97 L348.00,77.24 L351.00,74.50 L354.00,71.73 L357.00,68.94 L360.00,66.12 L363.00,63.29 L366.00,60.43 L369.00,57.55 L372.00,54.64 L375.00,51.71 L378.00,48.77 L381.00,45.79 L384.00,42.80 L387.00,39.78 L390.00,36.74 L393.00,33.68 L396.00,30.59 L397.00,29.56 L397.00,84.92 L396.00,85.69 L393.00,87.97 L390.00,90.24 L387.00,92.49 L384.00,94.72 L381.00,96.94 L378.00,99.14 L375.00,101.32 L372.00,103.48 L369.00,105.63 L366.00,107.77 L363.00,109.88 L360.00,111.98 L357.00,114.06 L354.00,116.13 L351.00,118.18 L348.00,120.21 L345.00,122.22 L342.00,124.22 L339.00,126.20 L336.00,128.17 L333.00,130.12 L330.00,132.05 L327.00,133.96 L324.00,135.86 L321.00,137.74 L318.00,139.61 L315.00,141.46 L312.00,143.29 L309.00,145.10 L306.00,146.90 L303.00,148.68 L300.00,150.44 L297.00,152.19 L294.00,153.92 L291.00,155.63 L288.00,157.33 L285.00,159.01 L282.00,160.68 L279.00,162.32 L276.00,163.95 L273.00,165.57 L270.00,167.16 L267.00,168.74 L264.00,170.31 L261.00,171.85 L258.00,173.38 L255.00,174.90 L252.00,176.39 L249.00,177.87 L246.00,179.33 L243.00,180.78 L240.00,182.21 L237.00,183.62 L234.00,185.02 L231.00,186.40 L228.00,187.76 L225.00,189.10 L222.00,190.43 L219.00,191.74 L216.00,193.04 L213.00,194.32 L210.00,195.58 L207.00,196.83 L204.00,198.05 L201.00,199.26 L198.00,200.46 L195.00,201.64 L192.00,202.80 L189.00,203.94 L186.00,205.07 L183.00,206.18 L180.00,207.28 L177.00,208.35 L174.00,209.42 L171.00,210.46 L168.00,211.49 L165.00,212.50 L162.00,213.49 L159.00,214.47 L156.00,215.43 L153.00,216.37 L150.00,217.30 L147.00,218.21 L144.00,219.10 L141.00,219.98 L138.00,220.84 L135.00,221.68 L132.00,222.51 L129.00,223.32 L126.00,224.11 L123.00,224.89 L120.00,225.65 L117.00,226.39 L114.00,227.12 L111.00,227.83 L108.00,228.55 L105.00,229.27 L102.00,229.97 L99.00,230.65 L96.00,231.32 L93.00,231.97 L90.00,232.61 L87.00,233.23 L84.00,233.83 L81.00,234.41 L78.00,234.98 L75.00,235.53 L72.00,236.07 L69.00,236.59 L66.00,237.09 L63.00,237.57 L60.00,238.04 L57.00,238.49 L54.00,238.92Z" fill="url(#hg)"/></g>
<g clip-path="url(#cin2)"><path d="M54.00,235.30 L57.00,234.66 L60.00,233.99 L63.00,233.29 L66.00,232.56 L69.00,231.81 L72.00,231.03 L75.00,230.22 L78.00,229.38 L81.00,228.52 L84.00,227.63 L87.00,226.71 L90.00,225.76 L93.00,224.79 L96.00,223.79 L99.00,222.76 L102.00,221.70 L105.00,220.62 L108.00,219.51 L111.00,218.37 L114.00,217.20 L117.00,216.01 L120.00,214.78 L123.00,213.53 L126.00,212.26 L129.00,210.95 L132.00,209.62 L135.00,208.26 L138.00,206.87 L141.00,205.46 L144.00,204.02 L147.00,202.55 L150.00,201.05 L153.00,199.53 L156.00,197.97 L159.00,196.40 L162.00,194.79 L165.00,193.15 L168.00,191.49 L171.00,189.80 L174.00,188.08 L177.00,186.34 L180.00,184.57 L183.00,182.77 L186.00,180.94 L189.00,179.08 L192.00,177.20 L195.00,175.29 L198.00,173.35 L201.00,171.39 L204.00,169.39 L207.00,167.37 L210.00,165.33 L213.00,163.25 L216.00,161.15 L219.00,159.02 L222.00,156.86 L225.00,154.67 L228.00,152.46 L231.00,150.22 L234.00,147.95 L237.00,145.66 L240.00,143.33 L243.00,140.98 L246.00,138.60 L249.00,136.20 L252.00,133.77 L255.00,131.30 L258.00,128.82 L261.00,126.30 L264.00,123.76 L267.00,121.19 L270.00,118.59 L273.00,115.96 L276.00,113.31 L279.00,110.63 L282.00,107.92 L285.00,105.18 L288.00,102.42 L291.00,99.63 L294.00,96.81 L297.00,93.96 L300.00,91.09 L303.00,88.18 L306.00,85.26 L309.00,82.30 L312.00,79.31 L315.00,76.30 L318.00,73.26 L321.00,70.20 L324.00,67.10 L327.00,63.98 L330.00,60.83 L333.00,57.66 L336.00,54.45 L339.00,51.22 L342.00,47.96 L345.00,44.67 L348.00,41.36 L351.00,38.02 L354.00,34.65 L357.00,31.25 L360.00,27.82 L363.00,24.37 L366.00,20.89 L369.00,17.38 L372.00,13.85 L375.00,10.29 L378.00,6.70 L381.00,5.80 L384.00,5.80 L387.00,5.80 L390.00,5.80 L393.00,5.80 L396.00,5.80 L397.00,5.80 L397.00,168.06 L396.00,168.43 L393.00,169.52 L390.00,170.60 L387.00,171.67 L384.00,172.73 L381.00,173.79 L378.00,174.84 L375.00,175.88 L372.00,176.91 L369.00,177.94 L366.00,178.95 L363.00,179.96 L360.00,180.96 L357.00,181.96 L354.00,182.94 L351.00,183.92 L348.00,184.89 L345.00,185.85 L342.00,186.80 L339.00,187.75 L336.00,188.68 L333.00,189.61 L330.00,190.53 L327.00,191.45 L324.00,192.35 L321.00,193.25 L318.00,194.14 L315.00,195.02 L312.00,195.89 L309.00,196.76 L306.00,197.61 L303.00,198.46 L300.00,199.30 L297.00,200.14 L294.00,200.96 L291.00,201.78 L288.00,202.59 L285.00,203.39 L282.00,204.18 L279.00,204.97 L276.00,205.75 L273.00,206.52 L270.00,207.28 L267.00,208.03 L264.00,208.78 L261.00,209.51 L258.00,210.24 L255.00,210.96 L252.00,211.68 L249.00,212.38 L246.00,213.08 L243.00,213.77 L240.00,214.45 L237.00,215.12 L234.00,215.79 L231.00,216.45 L228.00,217.10 L225.00,217.74 L222.00,218.37 L219.00,219.00 L216.00,219.62 L213.00,220.23 L210.00,220.83 L207.00,221.42 L204.00,222.01 L201.00,222.58 L198.00,223.15 L195.00,223.72 L192.00,224.27 L189.00,224.82 L186.00,225.35 L183.00,225.88 L180.00,226.40 L177.00,226.92 L174.00,227.42 L171.00,227.92 L168.00,228.41 L165.00,228.89 L162.00,229.37 L159.00,229.83 L156.00,230.29 L153.00,230.74 L150.00,231.18 L147.00,231.62 L144.00,232.04 L141.00,232.46 L138.00,232.82 L135.00,233.16 L132.00,233.50 L129.00,233.83 L126.00,234.21 L123.00,234.63 L120.00,235.05 L117.00,235.47 L114.00,235.89 L111.00,236.31 L108.00,236.73 L105.00,237.15 L102.00,237.54 L99.00,237.80 L96.00,238.06 L93.00,238.31 L90.00,238.53 L87.00,238.71 L84.00,238.90 L81.00,239.20 L78.00,239.50 L75.00,239.80 L72.00,240.01 L69.00,240.23 L66.00,240.44 L63.00,240.66 L60.00,240.87 L57.00,241.09 L54.00,241.30Z" fill="url(#hy2)"/><path d="M54.00,235.30 L57.00,234.66 L60.00,233.99 L63.00,233.29 L66.00,232.56 L69.00,231.81 L72.00,231.03 L75.00,230.22 L78.00,229.38 L81.00,228.52 L84.00,227.63 L87.00,226.71 L90.00,225.76 L93.00,224.79 L96.00,223.79 L99.00,222.76 L102.00,221.70 L105.00,220.62 L108.00,219.51 L111.00,218.37 L114.00,217.20 L117.00,216.01 L120.00,214.78 L123.00,213.53 L126.00,212.26 L129.00,210.95 L132.00,209.62 L135.00,208.26 L138.00,206.87 L141.00,205.46 L144.00,204.02 L147.00,202.55 L150.00,201.05 L153.00,199.53 L156.00,197.97 L159.00,196.40 L162.00,194.79 L165.00,193.15 L168.00,191.49 L171.00,189.80 L174.00,188.08 L177.00,186.34 L180.00,184.57 L183.00,182.77 L186.00,180.94 L189.00,179.08 L192.00,177.20 L195.00,175.29 L198.00,173.35 L201.00,171.39 L204.00,169.39 L207.00,167.37 L210.00,165.33 L213.00,163.25 L216.00,161.15 L219.00,159.02 L222.00,156.86 L225.00,154.67 L228.00,152.46 L231.00,150.22 L234.00,147.95 L237.00,145.66 L240.00,143.33 L243.00,140.98 L246.00,138.60 L249.00,136.20 L252.00,133.77 L255.00,131.30 L258.00,128.82 L261.00,126.30 L264.00,123.76 L267.00,121.19 L270.00,118.59 L273.00,115.96 L276.00,113.31 L279.00,110.63 L282.00,107.92 L285.00,105.18 L288.00,102.42 L291.00,99.63 L294.00,96.81 L297.00,93.96 L300.00,91.09 L303.00,88.18 L306.00,85.26 L309.00,82.30 L312.00,79.31 L315.00,76.30 L318.00,73.26 L321.00,70.20 L324.00,67.10 L327.00,63.98 L330.00,60.83 L333.00,57.66 L336.00,54.45 L339.00,51.22 L342.00,47.96 L345.00,44.67 L348.00,41.36 L351.00,38.02 L354.00,34.65 L357.00,31.25 L360.00,27.82 L363.00,24.37 L366.00,20.89 L369.00,17.38 L372.00,13.85 L375.00,10.29 L378.00,6.70 L381.00,5.80 L384.00,5.80 L387.00,5.80 L390.00,5.80 L393.00,5.80 L396.00,5.80 L397.00,5.80" fill="none" stroke="#ffcc00" stroke-width="1.2" transform="translate(0,0.6)"/><path d="M54.00,236.59 L57.00,236.06 L60.00,235.51 L63.00,234.93 L66.00,234.33 L69.00,233.72 L72.00,233.07 L75.00,232.41 L78.00,231.72 L81.00,231.01 L84.00,230.28 L87.00,229.53 L90.00,228.75 L93.00,227.95 L96.00,227.12 L99.00,226.28 L102.00,225.41 L105.00,224.52 L108.00,223.61 L111.00,222.67 L114.00,221.71 L117.00,220.73 L120.00,219.73 L123.00,218.70 L126.00,217.65 L129.00,216.58 L132.00,215.49 L135.00,214.37 L138.00,213.23 L141.00,212.07 L144.00,210.88 L147.00,209.68 L150.00,208.45 L153.00,207.19 L156.00,205.92 L159.00,204.62 L162.00,203.30 L165.00,201.96 L168.00,200.59 L171.00,199.20 L174.00,197.79 L177.00,196.36 L180.00,194.90 L183.00,193.42 L186.00,191.92 L189.00,190.40 L192.00,188.85 L195.00,187.28 L198.00,185.69 L201.00,184.07 L204.00,182.44 L207.00,180.78 L210.00,179.09 L213.00,177.39 L216.00,175.66 L219.00,173.91 L222.00,172.14 L225.00,170.34 L228.00,168.52 L231.00,166.68 L234.00,164.82 L237.00,162.93 L240.00,161.03 L243.00,159.09 L246.00,157.14 L249.00,155.16 L252.00,153.16 L255.00,151.14 L258.00,149.10 L261.00,147.03 L264.00,144.94 L267.00,142.83 L270.00,140.69 L273.00,138.54 L276.00,136.36 L279.00,134.15 L282.00,131.93 L285.00,129.68 L288.00,127.41 L291.00,125.11 L294.00,122.80 L297.00,120.46 L300.00,118.10 L303.00,115.72 L306.00,113.31 L309.00,110.88 L312.00,108.43 L315.00,105.95 L318.00,103.46 L321.00,100.94 L324.00,98.39 L327.00,95.83 L330.00,93.24 L333.00,90.63 L336.00,88.00 L339.00,85.34 L342.00,82.67 L345.00,79.97 L348.00,77.24 L351.00,74.50 L354.00,71.73 L357.00,68.94 L360.00,66.12 L363.00,63.29 L366.00,60.43 L369.00,57.55 L372.00,54.64 L375.00,51.71 L378.00,48.77 L381.00,45.79 L384.00,42.80 L387.00,39.78 L390.00,36.74 L393.00,33.68 L396.00,30.59 L397.00,29.56 L397.00,84.92 L396.00,85.69 L393.00,87.97 L390.00,90.24 L387.00,92.49 L384.00,94.72 L381.00,96.94 L378.00,99.14 L375.00,101.32 L372.00,103.48 L369.00,105.63 L366.00,107.77 L363.00,109.88 L360.00,111.98 L357.00,114.06 L354.00,116.13 L351.00,118.18 L348.00,120.21 L345.00,122.22 L342.00,124.22 L339.00,126.20 L336.00,128.17 L333.00,130.12 L330.00,132.05 L327.00,133.96 L324.00,135.86 L321.00,137.74 L318.00,139.61 L315.00,141.46 L312.00,143.29 L309.00,145.10 L306.00,146.90 L303.00,148.68 L300.00,150.44 L297.00,152.19 L294.00,153.92 L291.00,155.63 L288.00,157.33 L285.00,159.01 L282.00,160.68 L279.00,162.32 L276.00,163.95 L273.00,165.57 L270.00,167.16 L267.00,168.74 L264.00,170.31 L261.00,171.85 L258.00,173.38 L255.00,174.90 L252.00,176.39 L249.00,177.87 L246.00,179.33 L243.00,180.78 L240.00,182.21 L237.00,183.62 L234.00,185.02 L231.00,186.40 L228.00,187.76 L225.00,189.10 L222.00,190.43 L219.00,191.74 L216.00,193.04 L213.00,194.32 L210.00,195.58 L207.00,196.83 L204.00,198.05 L201.00,199.26 L198.00,200.46 L195.00,201.64 L192.00,202.80 L189.00,203.94 L186.00,205.07 L183.00,206.18 L180.00,207.28 L177.00,208.35 L174.00,209.42 L171.00,210.46 L168.00,211.49 L165.00,212.50 L162.00,213.49 L159.00,214.47 L156.00,215.43 L153.00,216.37 L150.00,217.30 L147.00,218.21 L144.00,219.10 L141.00,219.98 L138.00,220.84 L135.00,221.68 L132.00,222.51 L129.00,223.32 L126.00,224.11 L123.00,224.89 L120.00,225.65 L117.00,226.39 L114.00,227.12 L111.00,227.83 L108.00,228.55 L105.00,229.27 L102.00,229.97 L99.00,230.65 L96.00,231.32 L93.00,231.97 L90.00,232.61 L87.00,233.23 L84.00,233.83 L81.00,234.41 L78.00,234.98 L75.00,235.53 L72.00,236.07 L69.00,236.59 L66.00,237.09 L63.00,237.57 L60.00,238.04 L57.00,238.49 L54.00,238.92Z" fill="url(#hg2)" stroke="#1cf014" stroke-width="1.3"/></g>
<path d="M53.80,181.40 L54.00,181.40 L59.80,175.77 M67.30,168.48 L68.00,167.80 L73.30,163.40 M80.80,157.16 L81.60,156.50 L86.80,152.74 M95.10,146.74 L101.10,143.02 M109.50,137.81 L110.00,137.50 L115.50,133.89 M124.50,127.97 L127.50,126.00 L130.50,123.99 M138.75,118.47 L142.00,116.30 L145.00,114.50 M153.75,109.25 L157.00,107.30 L160.00,106.12 M169.50,102.38 L173.00,101.00 L176.25,99.68 M185.75,95.82 L189.00,94.50 L192.50,92.58 M201.25,87.78 L204.50,86.00 L207.50,83.99 M216.00,78.31 L219.00,76.30 L222.50,74.34 M231.50,69.31 L232.50,68.75 L237.50,65.88 M246.25,60.86 L249.50,59.00 L252.50,57.55 M262.50,52.70 L265.50,51.25 L268.75,49.86 M278.00,45.89 L281.00,44.60 L284.50,43.16 M293.75,39.34 L297.00,38.00 L300.50,36.25 M311.00,30.90 L317.40,27.06 M326.00,21.80 L332.30,17.39 M339.70,12.20 L344.70,8.70 L345.20,8.34" fill="none" stroke="#f07c7c" stroke-width="1.9"/>
<path d="M54.00,203.10 L73.00,194.90 M79.40,192.46 L80.60,192.00 L83.00,190.68 M88.00,187.92 L100.00,181.20 L108.00,177.36 M113.00,175.15 L117.50,173.20 M122.50,170.14 L126.25,167.80 L132.50,164.70 L138.75,161.60 L142.50,160.10 M148.00,157.90 L151.25,156.60 L152.50,156.02 M157.50,153.70 L163.75,149.10 L168.75,144.60 L175.00,140.90 M180.00,137.46 L181.25,136.60 L184.40,134.38 M188.75,131.70 L193.75,129.70 L200.00,127.20 L206.25,124.40 L208.75,123.00 M214.00,120.72 L217.50,119.60 L218.75,119.05 M225.00,116.20 L228.75,114.40 L235.00,111.60 L241.25,108.40 L243.75,107.16 M249.40,103.73 L251.25,102.20 L253.75,100.68 M258.00,98.26 L263.75,96.60 L270.00,94.70 L276.25,92.80 L278.75,92.04 M285.00,90.18 L288.75,89.10 L289.00,88.97 M294.40,86.21 L295.00,85.90 L298.75,82.80 L305.00,79.00 L312.50,74.00 L313.00,73.68 M318.00,70.52 L318.50,70.20 L321.50,67.84 M326.90,63.60 L344.40,54.40 M351.25,50.32 L352.80,49.40 L354.40,48.62 M360.60,45.60 L370.00,42.50 L380.60,39.34 M388.00,37.13 L391.80,36.00 L392.00,35.90" fill="none" stroke="#2cbabc" stroke-width="2.1"/>
<path d="M54.00,5.60 L67.30,5.80 L67.25,30.00 L66.88,32.50 M66.46,35.80 L66.10,44.00 M65.91,48.20 L65.52,57.00 M65.27,62.50 L64.78,70.60 M64.48,75.60 L63.96,84.40 M63.62,90.00 L63.50,92.00 L62.73,98.75 M62.24,103.00 L61.09,113.00 M60.52,118.00 L60.00,122.50 L59.47,125.60 M58.61,130.60 L57.00,140.00 L56.86,140.60 M55.94,144.40 L54.30,151.25" fill="none" stroke="#ae3a38" stroke-width="1.4"/>
<path d="M54.20,153.60 L55.00,154.90" fill="none" stroke="#e8500c" stroke-width="2"/>
<path d="M57.90,159.70 L58.70,160.90" fill="none" stroke="#e8500c" stroke-width="2"/>
<path d="M61.30,166.30 L65.00,172.50 L68.00,176.80" fill="none" stroke="#e8500c" stroke-width="2"/>
<path d="M70.60,180.90 L71.40,182.10" fill="none" stroke="#e8500c" stroke-width="2"/>
<path d="M75.10,186.90 L75.90,188.10" fill="none" stroke="#e8500c" stroke-width="2"/>
<path d="M78.50,192.50 L82.00,198.50 L85.50,204.50" fill="none" stroke="#e8500c" stroke-width="2"/>
<path d="M87.20,209.90 L87.80,211.30" fill="none" stroke="#e8500c" stroke-width="2"/>
<path d="M89.30,215.50 L89.90,216.90" fill="none" stroke="#e8500c" stroke-width="2"/>
<path d="M91.60,222.90 L92.40,229.00 L93.10,235.50" fill="none" stroke="#e8500c" stroke-width="2"/>
<path d="M94.40,240.80 L94.80,242.40" fill="none" stroke="#e8500c" stroke-width="2"/>
</g>
<g stroke="#000" stroke-opacity="0.55" stroke-width="0.7" fill="none">
<rect x="53.5" y="5.8" width="342" height="237.2"/>
<path d="M122.40,5.8v4M122.40,242.6v-4"/>
<path d="M190.80,5.8v4M190.80,242.6v-4"/>
<path d="M259.25,5.8v4M259.25,242.6v-4"/>
<path d="M327.60,5.8v4M327.60,242.6v-4"/>
<path d="M53.5,208.70h4.5M395.5,208.70h-4"/>
<path d="M53.5,174.90h4.5M395.5,174.90h-4"/>
<path d="M53.5,141.10h4.5M395.5,141.10h-4"/>
<path d="M53.5,107.40h4.5M395.5,107.40h-4"/>
<path d="M53.5,73.60h4.5M395.5,73.60h-4"/>
<path d="M53.5,39.90h4.5M395.5,39.90h-4"/>
</g>
<rect x="345" y="217.2" width="36" height="6.6" fill="#cc66ff"/>
<rect x="345" y="229.2" width="36" height="7.4" fill="#ddb3ff"/>
<text class="h" x="40.40" y="246.20" font-size="11.5" textLength="6.4" lengthAdjust="spacingAndGlyphs">0</text>
<text class="h" x="31.20" y="212.40" font-size="11.5" textLength="15.6" lengthAdjust="spacingAndGlyphs">0.5</text>
<text class="h" x="40.40" y="178.60" font-size="11.5" textLength="6.4" lengthAdjust="spacingAndGlyphs">1</text>
<text class="h" x="31.20" y="144.80" font-size="11.5" textLength="15.6" lengthAdjust="spacingAndGlyphs">1.5</text>
<text class="h" x="40.40" y="111.10" font-size="11.5" textLength="6.4" lengthAdjust="spacingAndGlyphs">2</text>
<text class="h" x="31.20" y="77.30" font-size="11.5" textLength="15.6" lengthAdjust="spacingAndGlyphs">2.5</text>
<text class="h" x="40.40" y="43.60" font-size="11.5" textLength="6.4" lengthAdjust="spacingAndGlyphs">3</text>
<text class="h" x="31.20" y="9.70" font-size="11.5" textLength="15.6" lengthAdjust="spacingAndGlyphs">3.5</text>
<text class="h" x="45.90" y="259.2" font-size="11.5" textLength="15.2" lengthAdjust="spacingAndGlyphs">0.5</text>
<text class="h" x="118.80" y="259.2" font-size="11.5" textLength="6.2" lengthAdjust="spacingAndGlyphs">1</text>
<text class="h" x="182.70" y="259.2" font-size="11.5" textLength="15.2" lengthAdjust="spacingAndGlyphs">1.5</text>
<text class="h" x="255.65" y="259.2" font-size="11.5" textLength="6.2" lengthAdjust="spacingAndGlyphs">2</text>
<text class="h" x="319.50" y="259.2" font-size="11.5" textLength="15.2" lengthAdjust="spacingAndGlyphs">2.5</text>
<text class="h" x="392.40" y="259.2" font-size="11.5" textLength="6.2" lengthAdjust="spacingAndGlyphs">3</text>
<text class="h" x="284.5" y="223.2" font-size="11" textLength="53" lengthAdjust="spacingAndGlyphs">CMS(<tspan font-style="italic">jjνν</tspan>)</text>
<text class="h" x="286.5" y="236" font-size="11" textLength="51" lengthAdjust="spacingAndGlyphs">CMS(<tspan font-style="italic">bbνν</tspan>)</text>
<text class="h" x="196.5" y="277.5" font-size="12.5" font-style="italic" textLength="9.5" lengthAdjust="spacingAndGlyphs">M</text>
<text class="h" x="205.8" y="279.8" font-size="9" font-style="italic">S</text>
<text class="h" x="211.3" y="281.3" font-size="6.5">1</text>
<text class="h" x="222.8" y="277.5" font-size="12" textLength="30.5" lengthAdjust="spacingAndGlyphs">(TeV)</text>
<g transform="translate(13,150.8) rotate(-90)">
<text class="h" x="0" y="0" font-size="11.5" font-style="italic">λ</text>
<text class="h" x="11.6" y="0.2" font-size="15.5">(</text>
<text class="h" x="18.1" y="-0.2" font-size="12" textLength="8.5" lengthAdjust="spacingAndGlyphs">=</text>
<text class="h" x="28.5" y="0" font-size="11.5" font-style="italic">λ</text>
<text class="h" x="37.3" y="-5" font-size="8.5" font-style="italic">L</text>
<text class="h" x="35.8" y="2.3" font-size="8.5">23</text>
<text class="h" x="46.3" y="0.2" font-size="15.5">)</text>
</g>
<text class="p" x="62.4" y="23" font-size="12.5" font-style="italic">λ</text>
<text class="p" x="69.3" y="17" font-size="8.5" font-style="italic">L</text>
<text class="p" x="68.2" y="25.7" font-size="8.5" textLength="10" lengthAdjust="spacingAndGlyphs">33</text>
<text class="p" x="82" y="23.9" font-size="12" textLength="9" lengthAdjust="spacingAndGlyphs">=</text>
<text class="p" x="95.3" y="22.8" font-size="11">1</text>
</svg></body></html>
